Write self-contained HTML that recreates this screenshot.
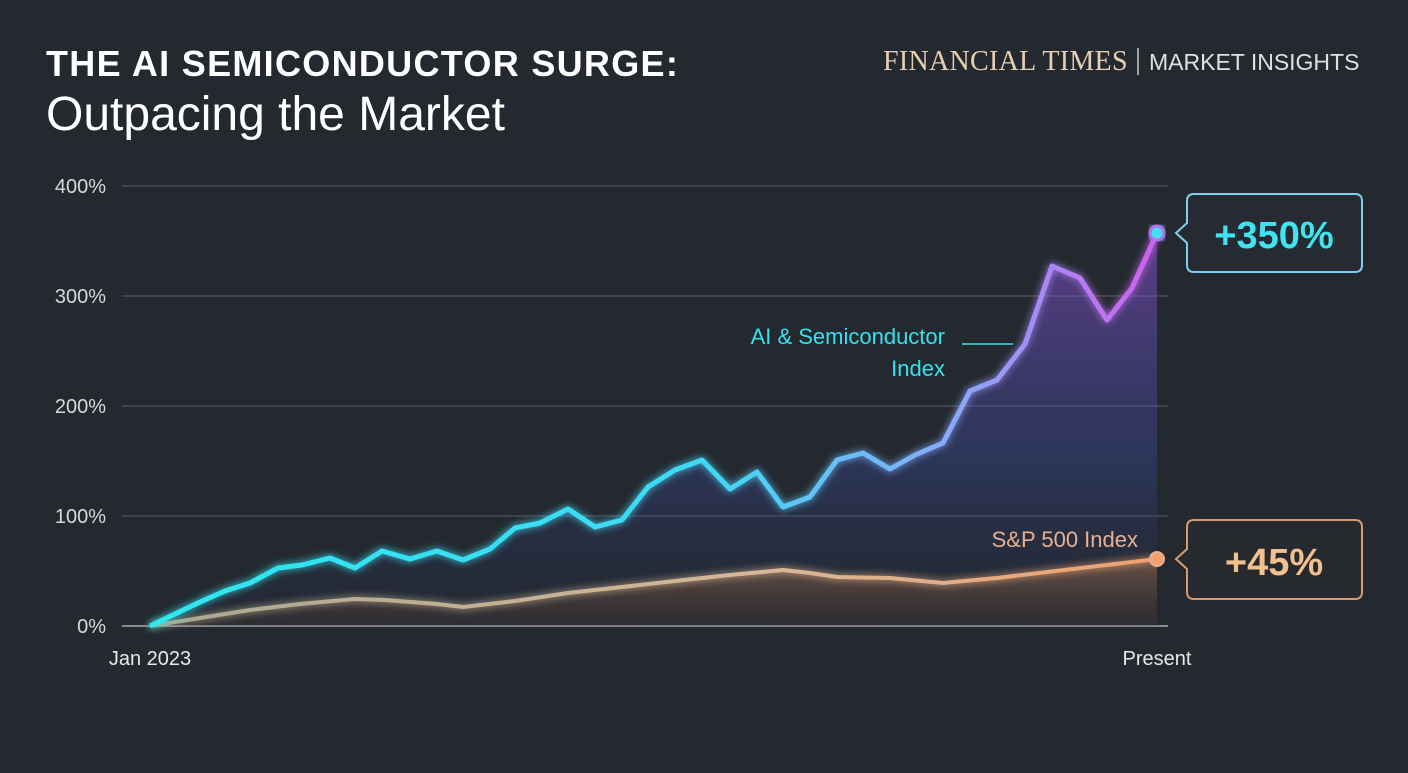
<!DOCTYPE html>
<html><head><style>
body{margin:0;width:1408px;height:768px;background:#242930;overflow:hidden;font-family:"Liberation Sans",sans-serif}
</style></head><body>
<svg width="1408" height="768" xmlns="http://www.w3.org/2000/svg">
<defs>
<linearGradient id="ai" x1="150" y1="0" x2="1157" y2="0" gradientUnits="userSpaceOnUse">
<stop offset="0" stop-color="#2ee8f0"/><stop offset="0.55" stop-color="#40d8f5"/><stop offset="0.8" stop-color="#8aa8f8"/><stop offset="1" stop-color="#d060f0"/></linearGradient>
<linearGradient id="aifill" x1="0" y1="230" x2="0" y2="626" gradientUnits="userSpaceOnUse">
<stop offset="0" stop-color="#8a50d0" stop-opacity="0.55"/><stop offset="0.6" stop-color="#3a4aa0" stop-opacity="0.35"/><stop offset="1" stop-color="#202a40" stop-opacity="0.1"/></linearGradient>
<linearGradient id="sp" x1="150" y1="0" x2="1157" y2="0" gradientUnits="userSpaceOnUse">
<stop offset="0" stop-color="#a8a890"/><stop offset="0.6" stop-color="#d8b898"/><stop offset="1" stop-color="#f0a070"/></linearGradient>
<linearGradient id="spfill" x1="0" y1="560" x2="0" y2="626" gradientUnits="userSpaceOnUse">
<stop offset="0" stop-color="#c08050" stop-opacity="0.45"/><stop offset="1" stop-color="#604030" stop-opacity="0.15"/></linearGradient>
<filter id="glow"><feGaussianBlur stdDeviation="4" result="b"/><feMerge><feMergeNode in="b"/><feMergeNode in="SourceGraphic"/></feMerge></filter>
</defs>
<text x="46" y="76" fill="#fff" font-size="36" font-weight="bold" letter-spacing="1.3">THE AI SEMICONDUCTOR SURGE:</text>
<text x="46" y="130" fill="#fff" font-size="48">Outpacing the Market</text>
<text x="883" y="70" fill="#e6d0b4" font-size="28" letter-spacing="0.3" font-family="Liberation Serif,serif">FINANCIAL TIMES</text>
<line x1="1138" y1="48" x2="1138" y2="75" stroke="#ccc" stroke-width="1.5"/>
<text x="1149" y="70" fill="#e0e0e0" font-size="23">MARKET INSIGHTS</text>
<g stroke="#5a6068" stroke-width="1">
<line x1="122" y1="186" x2="1168" y2="186"/><line x1="122" y1="296" x2="1168" y2="296"/><line x1="122" y1="406" x2="1168" y2="406"/><line x1="122" y1="516" x2="1168" y2="516"/></g>
<line x1="122" y1="626" x2="1168" y2="626" stroke="#aaa" stroke-width="1.5"/>
<g fill="#d8d8d8" font-size="20" text-anchor="end">
<text x="106" y="193">400%</text><text x="106" y="303">300%</text><text x="106" y="413">200%</text><text x="106" y="523">100%</text><text x="106" y="633">0%</text></g>
<text x="150" y="665" fill="#e8e8e8" font-size="20" text-anchor="middle">Jan 2023</text>
<text x="1157" y="665" fill="#e8e8e8" font-size="20" text-anchor="middle">Present</text>
<path d="M150,626 175,614 200,602 225,591 250,583 278,568 302,565 330,558 355,568 382,551 410,559 437,551 463,560 490,549 515,528 540,523 568,509 595,527 622,520 648,487 675,470 702,460 730,489 757,472 783,507 810,497 837,460 863,453 890,469 915,455 943,443 970,391 997,380 1025,344 1052,266 1080,278 1107,320 1132,288 1157,233 L1157,626 Z" fill="url(#aifill)"/>
<path d="M150,626 200,618 250,610 300,604 355,599 385,600 437,604 463,607 515,601 568,593 622,587 675,581 730,575 783,570 810,573 837,577 890,578 943,583 997,578 1157,559 L1157,626 Z" fill="url(#spfill)"/>
<polyline points="150,626 200,618 250,610 300,604 355,599 385,600 437,604 463,607 515,601 568,593 622,587 675,581 730,575 783,570 810,573 837,577 890,578 943,583 997,578 1157,559" fill="none" stroke="url(#sp)" stroke-width="4" stroke-linejoin="round" filter="url(#glow)"/>
<polyline points="150,626 175,614 200,602 225,591 250,583 278,568 302,565 330,558 355,568 382,551 410,559 437,551 463,560 490,549 515,528 540,523 568,509 595,527 622,520 648,487 675,470 702,460 730,489 757,472 783,507 810,497 837,460 863,453 890,469 915,455 943,443 970,391 997,380 1025,344 1052,266 1080,278 1107,320 1132,288 1157,233" fill="none" stroke="url(#ai)" stroke-width="5" stroke-linejoin="round" filter="url(#glow)"/>
<circle cx="1157" cy="233" r="7" fill="#40e0f0" stroke="#b070f0" stroke-width="3" filter="url(#glow)"/>
<circle cx="1157" cy="559" r="7" fill="#f0a070" stroke="#e8b090" stroke-width="2"/>
<text x="945" y="344" fill="#38e0ec" font-size="22" text-anchor="end">AI &amp; Semiconductor</text>
<text x="945" y="376" fill="#38e0ec" font-size="22" text-anchor="end">Index</text>
<line x1="962" y1="344" x2="1013" y2="344" stroke="#38e0ec" stroke-width="1.5"/>
<text x="1138" y="547" fill="#e8b090" font-size="22" text-anchor="end">S&amp;P 500 Index</text>
<path d="M1194,194 H1355 Q1362,194 1362,201 V265 Q1362,272 1355,272 H1194 Q1187,272 1187,265 V243 L1176,233 L1187,223 V201 Q1187,194 1194,194 Z" fill="#252a33" stroke="#7ad0f0" stroke-width="2"/>
<text x="1274" y="248" fill="#40e4f0" font-size="38" font-weight="bold" text-anchor="middle">+350%</text>
<path d="M1194,520 H1355 Q1362,520 1362,527 V592 Q1362,599 1355,599 H1194 Q1187,599 1187,592 V569 L1176,559 L1187,549 V527 Q1187,520 1194,520 Z" fill="#262a2e" stroke="#d89870" stroke-width="2"/>
<text x="1274" y="575" fill="#f2c090" font-size="38" font-weight="bold" text-anchor="middle">+45%</text>
</svg>
</body></html>
